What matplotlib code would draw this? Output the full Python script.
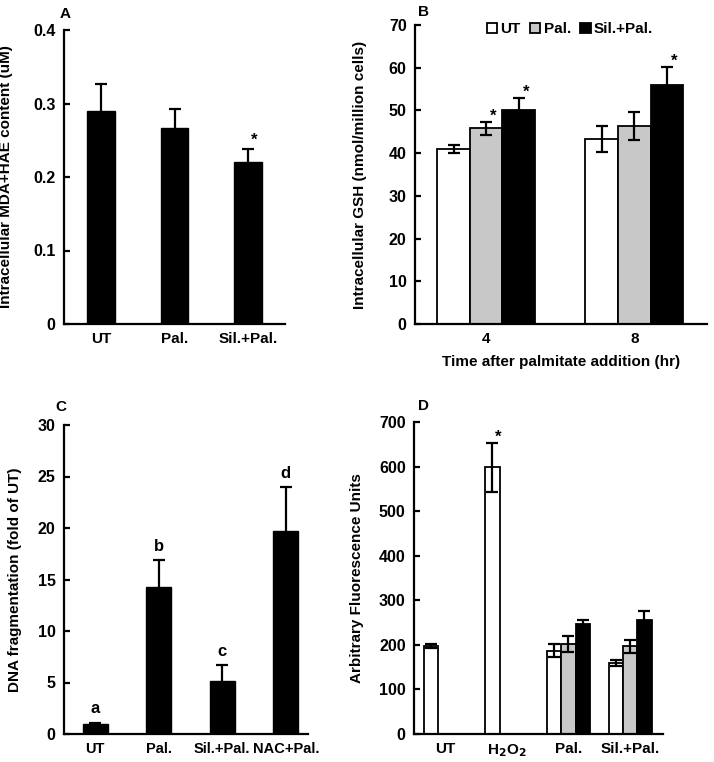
import matplotlib
matplotlib.use('Agg')
import matplotlib.pyplot as plt
import numpy as np
from matplotlib.patches import Patch

plt.rcParams['font.family'] = ['Liberation Sans', 'DejaVu Sans']
plt.rcParams['font.weight'] = 'bold'
plt.rcParams['axes.labelweight'] = 'bold'
plt.rcParams['mathtext.default'] = 'bf'

#% Panel A data
a_labels = ['UT', 'Pal.', 'Sil.+Pal.']
a_vals = [0.29, 0.266, 0.22]
a_err = [0.036, 0.026, 0.018]

#% Panel B data
b_times = ['4', '8']
b_series = ['UT', 'Pal.', 'Sil.+Pal.']
b_vals = [[41.0, 43.3], [45.8, 46.3], [50.0, 56.0]]
b_err = [[0.9, 3.0], [1.5, 3.3], [3.0, 4.2]]

#% Panel C data
c_labels = ['UT', 'Pal.', 'Sil.+Pal.', 'NAC+Pal.']
c_vals = [1.0, 14.3, 5.15, 19.7]
c_err = [0.1, 2.6, 1.55, 4.3]
c_letters = ['a', 'b', 'c', 'd']

#% Panel D data (nan = no bar)
d_labels = ['UT', 'H$_2$O$_2$', 'Pal.', 'Sil.+Pal.']
d_vals = [[198, 598, 187, 160], [np.nan, np.nan, 202, 197], [np.nan, np.nan, 247, 255]]
d_err = [[5, 55, 15, 7], [np.nan, np.nan, 17, 15], [np.nan, np.nan, 8, 22]]

colors = ['white', '#c8c8c8', 'black']
W, H = 714, 762
fig = plt.figure(figsize=(W/100, H/100), dpi=100)

def add_ax(l, t, r, b):
    return fig.add_axes([l/W, 1-b/H, (r-l)/W, (b-t)/H])

def style(ax):
    for s in ['top', 'right']:
        ax.spines[s].set_visible(False)
    for s in ['left', 'bottom']:
        ax.spines[s].set_linewidth(1.6)
    ax.tick_params(axis='y', direction='in', length=4, width=1.6, labelsize=11.5, pad=6)
    ax.tick_params(axis='x', length=0, labelsize=11, pad=6)

ekw = dict(ecolor='black', elinewidth=1.6, capsize=4, capthick=1.6)

# A
ax = add_ax(64, 30, 285, 324)
x = np.arange(len(a_labels))
ax.bar(x, a_vals, 0.38, color='black', edgecolor='black', yerr=a_err, error_kw=ekw)
ax.set_xlim(-0.5, 2.5)
ax.set_ylim(0, 0.4)
ax.set_yticks([0, 0.1, 0.2, 0.3, 0.4])
ax.set_yticklabels(['0', '0.1', '0.2', '0.3', '0.4'])
ax.set_xticks(x)
ax.set_xticklabels(a_labels)
ax.text(x[2]+0.08, a_vals[2]+a_err[2]+0.002, '*', ha='center', va='bottom', fontsize=12)
ax.set_ylabel('Intracellular MDA+HAE content (uM)', fontsize=11)
ax.yaxis.set_label_coords(-0.23, 0.5)
style(ax)
fig.text(60/W, 1-14/H, 'A', fontsize=11, ha='left', va='center')

# B
ax = add_ax(415, 25, 707, 324)
x = np.arange(len(b_times))
bw = 0.22
for i in range(3):
    ax.bar(x + (i-1)*bw, b_vals[i], bw, color=colors[i], edgecolor='black', linewidth=1.3,
           yerr=b_err[i], error_kw=ekw, label=b_series[i])
for i, j in [(1, 0), (2, 0), (2, 1)]:
    ax.text(x[j] + (i-1)*bw + 0.05, b_vals[i][j]+b_err[i][j]-0.5, '*', ha='center', va='bottom', fontsize=12)
ax.set_xlim(-0.48, 1.49)
ax.set_ylim(0, 70)
ax.set_yticks(range(0, 71, 10))
ax.set_xticks(x)
ax.set_xticklabels(b_times)
ax.set_xlabel('Time after palmitate addition (hr)', fontsize=11, labelpad=6)
ax.set_ylabel('Intracellular GSH (nmol/million cells)', fontsize=11)
ax.yaxis.set_label_coords(-0.164, 0.5)
style(ax)
handles = [Patch(facecolor=colors[i], edgecolor='black', linewidth=1.3, label=b_series[i]) for i in range(3)]
ax.legend(handles=handles, loc='upper center', bbox_to_anchor=(0.53, 1.055), ncol=3, frameon=False,
          fontsize=11, handlelength=0.7, handleheight=0.7, handletextpad=0.2, columnspacing=0.6)
fig.text(418/W, 1-12/H, 'B', fontsize=11, ha='left', va='center')

# C
ax = add_ax(64, 425, 308, 734)
x = np.arange(len(c_labels))
ax.bar(x, c_vals, 0.39, color='black', edgecolor='black', yerr=c_err, error_kw=ekw)
for i in range(len(c_labels)):
    ax.text(x[i], c_vals[i]+c_err[i]+0.6, c_letters[i], ha='center', va='bottom', fontsize=12)
ax.set_xlim(-0.49, 3.35)
ax.set_ylim(0, 30)
ax.set_yticks(range(0, 31, 5))
ax.set_xticks(x)
ax.set_xticklabels(c_labels)
ax.set_ylabel('DNA fragmentation (fold of UT)', fontsize=11)
ax.yaxis.set_label_coords(-0.172, 0.5)
style(ax)
ax.tick_params(axis='x', labelsize=10.5)
fig.text(55/W, 1-407/H, 'C', fontsize=11, ha='left', va='center')

# D
ax = add_ax(414, 422, 663, 734)
x = np.arange(len(d_labels))
bw = 0.23
for i in range(3):
    ax.bar(x + (i-1)*bw, d_vals[i], bw, color=colors[i], edgecolor='black', linewidth=1.3,
           yerr=d_err[i], error_kw=ekw)
ax.text(x[1] - bw + 0.1, d_vals[0][1]+d_err[0][1]-5, '*', ha='center', va='bottom', fontsize=12)
ax.set_xlim(-0.5, 3.53)
ax.set_ylim(0, 700)
ax.set_yticks(range(0, 701, 100))
ax.set_xticks(x)
ax.set_xticklabels(d_labels)
ax.set_ylabel('Arbitrary Fluorescence Units', fontsize=11)
ax.yaxis.set_label_coords(-0.2, 0.5)
style(ax)
fig.text(418/W, 1-406/H, 'D', fontsize=11, ha='left', va='center')

fig.savefig('out.png', dpi=100)
